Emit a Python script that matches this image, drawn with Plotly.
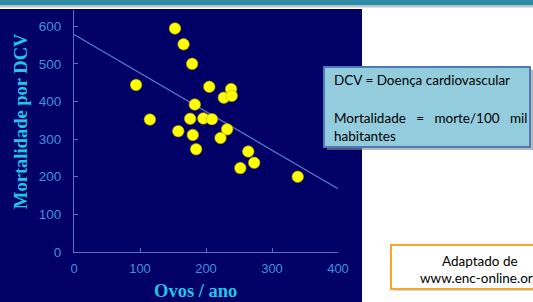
import plotly.graph_objects as go

# ---- data ----
eggs = [153, 166, 179, 94, 205, 238, 227, 239, 183, 115, 176, 196, 209, 158, 232, 180, 222, 185, 264, 273, 252, 339]
mortality = [594, 552, 500, 444, 439, 433, 410, 415, 392, 352, 354, 355, 353, 321, 326, 311, 303, 273, 267, 237, 223, 200]
trend_x = [0, 400]
trend_y = [578, 168]
x_ticks = [0, 100, 200, 300, 400]
y_ticks = [0, 100, 200, 300, 400, 500, 600]

W, H = 533, 302
L, R, T, B = 74, 533 - 338, 10, 302 - 252
PW, PH = W - L - R, H - T - B


def px(xp):
    return (xp - L) / PW


def py(yp):
    return (H - B - yp) / PH


NAVY = "#000066"
AXIS = "#4f74c4"
TICK = "#3c94dc"
TITLE = "#22c6e6"

fig = go.Figure()
fig.add_trace(go.Scatter(x=trend_x, y=trend_y, mode="lines",
                         line=dict(color="#5677c8", width=1.3), hoverinfo="skip",
                         showlegend=False))
fig.add_trace(go.Scatter(x=eggs, y=mortality, mode="markers",
                         marker=dict(size=11.5, color="#ffff00",
                                     line=dict(color="#b8a800", width=0.6)),
                         showlegend=False))

shapes = [
    # navy panel
    dict(type="rect", xref="paper", yref="paper", x0=px(-5), x1=px(362), y0=py(9), y1=py(310),
         fillcolor=NAVY, line=dict(width=0), layer="below"),
    # teal top band
    dict(type="rect", xref="paper", yref="paper", x0=px(-5), x1=px(540), y0=py(-5), y1=py(5.5),
         fillcolor="#2e8ca8", line=dict(width=0), layer="below"),
    dict(type="rect", xref="paper", yref="paper", x0=px(-5), x1=px(540), y0=py(5.5), y1=py(7.5),
         fillcolor="#c4c4c4", line=dict(width=0), layer="below"),
    # info box shadow + box
    dict(type="rect", xref="paper", yref="paper", x0=px(327), x1=px(533), y0=py(70), y1=py(150),
         fillcolor="#8a8a8a", line=dict(width=0), opacity=0.6, layer="above"),
    dict(type="rect", xref="paper", yref="paper", x0=px(324), x1=px(530), y0=py(67), y1=py(147),
         fillcolor="#93cddd", line=dict(color="#4a7ab8", width=2), layer="above"),
    # source box shadow + box
    dict(type="rect", xref="paper", yref="paper", x0=px(393), x1=px(548), y0=py(247), y1=py(291),
         fillcolor="#bdbdbd", line=dict(width=0), opacity=0.6, layer="above"),
    dict(type="rect", xref="paper", yref="paper", x0=px(391), x1=px(545), y0=py(245), y1=py(289),
         fillcolor="#ffffff", line=dict(color="#f0a830", width=2), layer="above"),
]

BOXFONT = dict(family="Lato, 'Open Sans', sans-serif", size=13.5, color="#000000")
SP = "\u00a0\u00a0\u00a0"
annotations = [
    dict(text="<b>Mortalidade por DCV</b>", xref="paper", yref="paper", x=px(21), y=py(121),
         textangle=-90, showarrow=False, xanchor="center", yanchor="middle",
         font=dict(family="Liberation Serif, Times New Roman, serif", size=18.5, color=TITLE)),
    dict(text="<b>Ovos / ano</b>", xref="paper", yref="paper", x=px(195), y=py(291),
         showarrow=False, xanchor="center", yanchor="middle",
         font=dict(family="Liberation Serif, Times New Roman, serif", size=18.5, color=TITLE)),
    dict(text="DCV = Doença cardiovascular", xref="paper", yref="paper", x=px(332), y=py(80),
         showarrow=False, xanchor="left", yanchor="middle", font=BOXFONT),
    dict(text="Mortalidade" + SP + "=" + SP + "morte/100" + SP + "mil", xref="paper", yref="paper",
         x=px(332), y=py(118), showarrow=False, xanchor="left", yanchor="middle", font=BOXFONT),
    dict(text="habitantes", xref="paper", yref="paper", x=px(332), y=py(136),
         showarrow=False, xanchor="left", yanchor="middle", font=BOXFONT),
    dict(text="Adaptado de", xref="paper", yref="paper", x=px(480), y=py(261),
         showarrow=False, xanchor="center", yanchor="middle", font=BOXFONT),
    dict(text="www.enc-online.org", xref="paper", yref="paper", x=px(480), y=py(278),
         showarrow=False, xanchor="center", yanchor="middle", font=BOXFONT),
]

fig.update_layout(
    width=W, height=H,
    margin=dict(l=L, r=R, t=T, b=B),
    paper_bgcolor="#ffffff",
    plot_bgcolor="rgba(0,0,0,0)",
    shapes=shapes,
    annotations=annotations,
    showlegend=False,
    font=dict(family="Liberation Sans, Arial, sans-serif"),
)
fig.update_xaxes(range=[0, 400], tickvals=x_ticks, showgrid=False, zeroline=False,
                 showline=True, linecolor=AXIS, linewidth=1.2, ticks="inside", ticklen=4,
                 tickcolor=AXIS, tickfont=dict(size=13, color=TICK), ticklabelstandoff=4)
fig.update_yaxes(range=[0, 643], tickvals=y_ticks, showgrid=False, zeroline=False,
                 showline=True, linecolor=AXIS, linewidth=1.2, ticks="inside", ticklen=4,
                 tickcolor=AXIS, tickfont=dict(size=13.5, color=TICK), ticklabelstandoff=9)

fig.write_html("out.html", config={"displayModeBar": False},
               post_script="document.body.style.margin='0';document.body.style.overflow='hidden';")
